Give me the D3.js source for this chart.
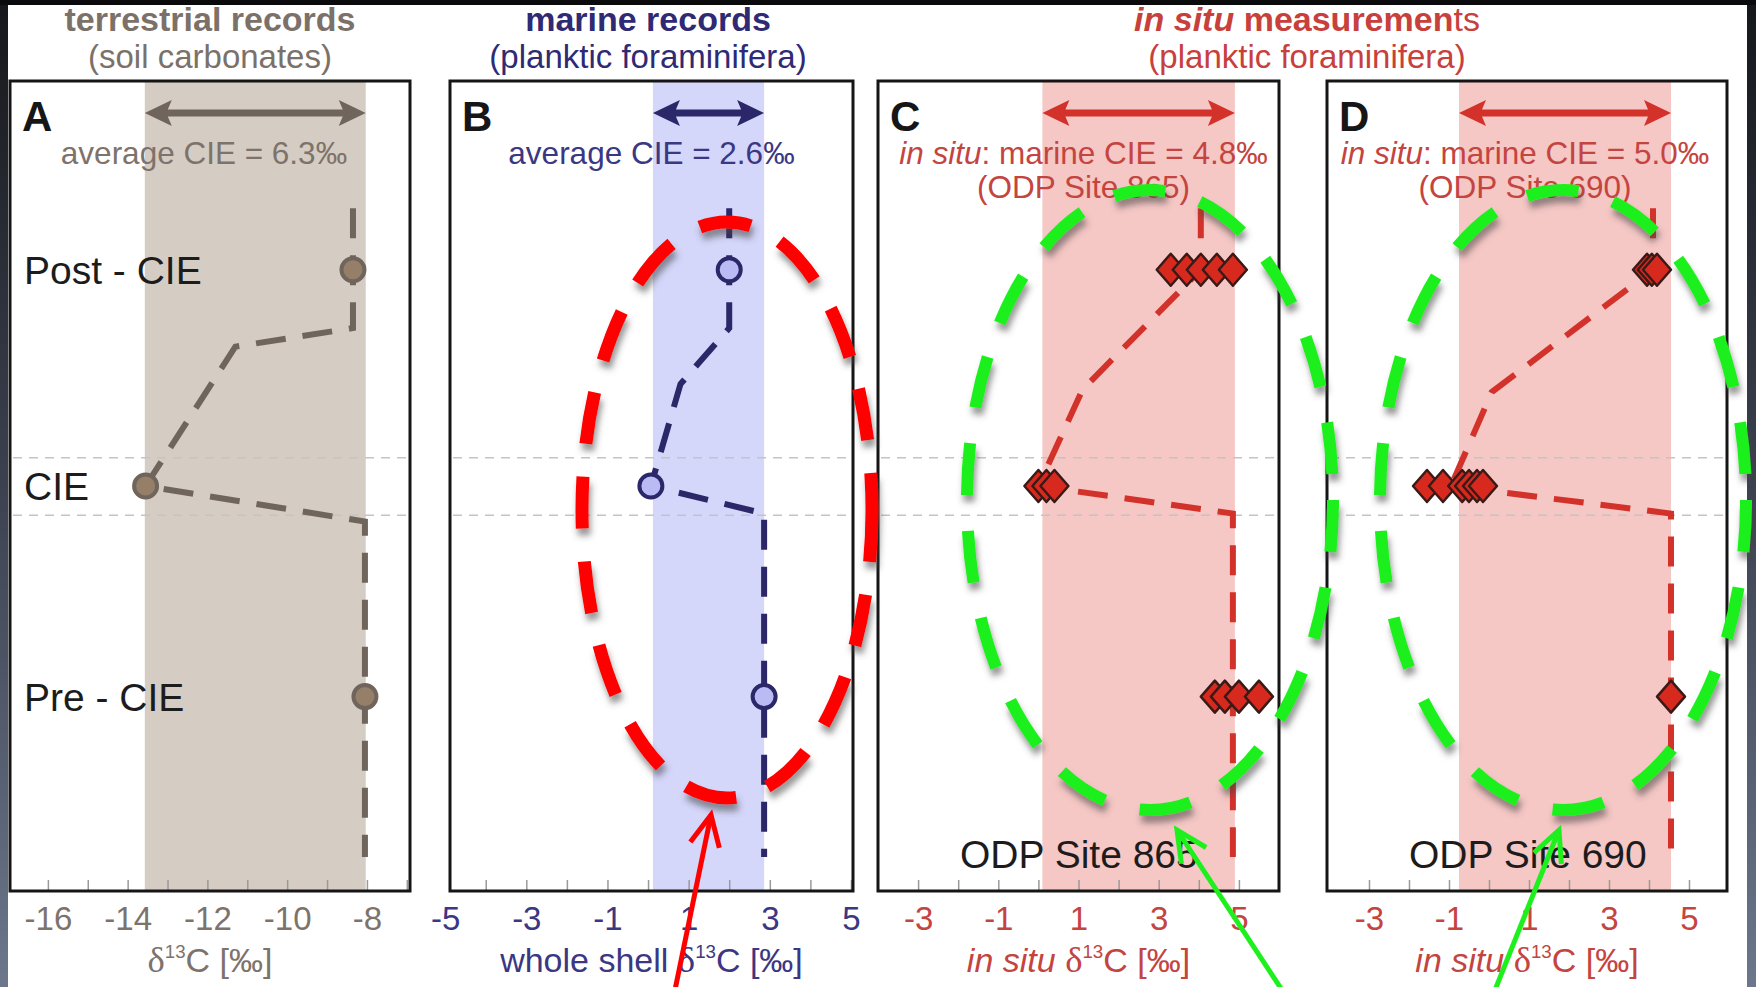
<!DOCTYPE html>
<html lang="en">
<head>
<meta charset="UTF-8">
<title>PETM carbon isotope excursion records</title>
<script src="https://d3js.org/d3.v7.min.js"></script>
<style>
  body { margin: 0; background: #fff; }
  svg { display: block; font-family: "Liberation Sans", Arial, sans-serif; }
</style>
</head>
<body>
<svg id="chart" width="1756" height="987"></svg>
<script>
// stratigraphic position of the intervals (0 = base of column, 100 = top)
var levelNames = ["Post - CIE", "CIE", "Pre - CIE"];
var levelPos = [76.7, 50, 24];
var cieZone = [46.4, 53.5];

// A - terrestrial records (soil carbonates)
var aDomain = [-16.95, -6.92];
var aTickLabels = [-16, -14, -12, -10, -8];
var aBand = [-13.57, -8.03];
var aPoints = [-8.35, -13.55, -8.05];          // post, CIE, pre
var aTrend = [[-8.35, 84.3], [-8.35, 76.7], [-8.35, 69.5], [-11.3, 67.2], [-13.55, 50], [-8.05, 45.6], [-8.05, 24], [-8.05, 4.2]];

// B - marine records (whole shell)
var bDomain = [-4.88, 5.05];
var bTickLabels = [-5, -3, -1, 1, 3, 5];
var bBand = [0.12, 2.86];
var bPoints = [2.0, 0.07, 2.86];
var bTrend = [[2.0, 84.3], [2.0, 76.7], [2.0, 69.5], [0.8, 62.6], [0.07, 50], [2.86, 46.6], [2.86, 24], [2.86, 4.2]];

// C - in situ, ODP Site 865
var cDomain = [-4, 6];
var cTickLabels = [-3, -1, 1, 3, 5];
var cBand = [0.1, 4.9];
var cPost = [3.3, 3.7, 4.05, 4.45, 4.85];
var cCie = [0.0, 0.2, 0.4];
var cPre = [4.4, 4.65, 5.0, 5.5];
var cTrend = [[4.05, 84.3], [4.05, 76.7], [1.1, 61.9], [0.0, 50], [4.85, 46.6], [4.85, 24], [4.85, 4.2]];

// D - in situ, ODP Site 690
var dDomain = [-4.05, 5.95];
var dTickLabels = [-3, -1, 1, 3, 5];
var dBand = [-0.75, 4.55];
var dPost = [3.95, 4.07, 4.2];
var dCie = [-1.55, -1.15, -0.67, -0.5, -0.3, -0.15];
var dPre = [4.55];
var dTrend = [[4.1, 84.3], [4.1, 76.7], [0.07, 61.6], [-0.95, 50], [4.55, 46.6], [4.55, 24], [4.55, 4.2]];

var W = 1756, H = 987;
var frameTop = 81, frameBottom = 891;
var svg = d3.select("#chart");

// slide background + dark border
var defs = svg.append("defs");
var lg = defs.append("linearGradient").attr("id", "edge").attr("x1", 0).attr("y1", 0).attr("x2", 0).attr("y2", 1);
lg.append("stop").attr("offset", 0).attr("stop-color", "#16171b");
lg.append("stop").attr("offset", 0.5).attr("stop-color", "#3c4250");
lg.append("stop").attr("offset", 1).attr("stop-color", "#6c778c");
var sh = defs.append("filter").attr("id", "shadow").attr("x", "-20%").attr("y", "-20%").attr("width", "140%").attr("height", "140%");
sh.append("feDropShadow").attr("dx", 2).attr("dy", 7).attr("stdDeviation", 3)
  .attr("flood-color", "#444").attr("flood-opacity", 0.55);

svg.append("rect").attr("width", W).attr("height", H).attr("fill", "#fff");
svg.append("rect").attr("x", 0).attr("y", 0).attr("width", 8).attr("height", H).attr("fill", "url(#edge)");
svg.append("rect").attr("x", W - 9).attr("y", 0).attr("width", 9).attr("height", H).attr("fill", "url(#edge)");
svg.append("rect").attr("x", 0).attr("y", 0).attr("width", W).attr("height", 5).attr("fill", "#0b0b0d");

var y = d3.scaleLinear().domain([0, 100]).range([frameBottom, frameTop]);

var panels = [
  { id: "A", x0: 10, x1: 410, domain: aDomain, ticks: aTickLabels, band: aBand,
    line: "#6f655d", text: "#7d736b", bandFill: "#d5cdc3", trend: aTrend,
    circles: aPoints, circleFill: "#957f68", labels: true,
    note: [["average CIE = 6.3‰", false]], noteDx: -6,
    axisTitle: [["", false], ["δ", "serif"], ["13", "sup"], ["C [‰]", false]] },
  { id: "B", x0: 450, x1: 853, domain: bDomain, ticks: bTickLabels, band: bBand,
    line: "#2b2768", text: "#3b3782", bandFill: "#d4d6fa", trend: bTrend,
    circles: bPoints, circleFill: "#babbf5",
    note: [["average CIE = 2.6‰", false]], noteDx: 0,
    axisTitle: [["whole shell ", false], ["δ", "serif"], ["13", "sup"], ["C [‰]", false]] },
  { id: "C", x0: 878, x1: 1279, domain: cDomain, ticks: cTickLabels, band: cBand,
    line: "#d3322b", text: "#c4443f", bandFill: "#f5c7c5", trend: cTrend,
    diamonds: [cPost, cCie, cPre], site: "ODP Site 865",
    note: [["in situ", "italic"], [": marine CIE = 4.8‰", false]], note2: "(ODP Site 865)", noteDx: 5,
    axisTitle: [["in situ ", "italic"], ["δ", "serif"], ["13", "sup"], ["C [‰]", false]] },
  { id: "D", x0: 1327, x1: 1727, domain: dDomain, ticks: dTickLabels, band: dBand,
    line: "#d3322b", text: "#c4443f", bandFill: "#f5c7c5", trend: dTrend,
    diamonds: [dPost, dCie, dPre], site: "ODP Site 690",
    note: [["in situ", "italic"], [": marine CIE = 5.0‰", false]], note2: "(ODP Site 690)", noteDx: -2,
    axisTitle: [["in situ ", "italic"], ["δ", "serif"], ["13", "sup"], ["C [‰]", false]] }
];

function runs(sel, parts) {
  var shift = 0;
  parts.forEach(function(p) {
    var t = sel.append("tspan").text(p[0]);
    if (p[1] === "italic") t.attr("font-style", "italic");
    if (p[1] === "serif") t.attr("font-family", "'Liberation Serif', serif").attr("font-size", "1.08em");
    if (p[1] === "sup") { t.attr("font-size", "0.55em").attr("dy", -14); shift = 14; }
    else if (shift) { t.attr("dy", shift); shift = 0; }
  });
}

panels.forEach(function(p) {
  var x = d3.scaleLinear().domain(p.domain).range([p.x0, p.x1]);
  var g = svg.append("g");
  var cx = (p.x0 + p.x1) / 2;

  // shaded CIE range
  g.append("rect").attr("x", x(p.band[0])).attr("y", frameTop)
    .attr("width", x(p.band[1]) - x(p.band[0])).attr("height", frameBottom - frameTop)
    .attr("fill", p.bandFill);

  // CIE interval guides
  g.selectAll(".zone").data(cieZone).enter().append("line")
    .attr("x1", p.x0 + 3).attr("x2", p.x1 - 3)
    .attr("y1", function(d) { return y(d); }).attr("y2", function(d) { return y(d); })
    .attr("stroke", "#c4c4c4").attr("stroke-width", 1.5).attr("stroke-dasharray", "9,7");

  // double arrow across the band
  var ax0 = x(p.band[0]), ax1 = x(p.band[1]), ay = 113, hl = 27, hw = 13, sw = 3.5;
  g.append("path")
    .attr("d", "M" + ax0 + "," + ay + "L" + (ax0 + hl) + "," + (ay - hw) + "L" + (ax0 + hl - 4) + "," + (ay - sw) +
      "L" + (ax1 - hl + 4) + "," + (ay - sw) + "L" + (ax1 - hl) + "," + (ay - hw) + "L" + ax1 + "," + ay +
      "L" + (ax1 - hl) + "," + (ay + hw) + "L" + (ax1 - hl + 4) + "," + (ay + sw) +
      "L" + (ax0 + hl - 4) + "," + (ay + sw) + "L" + (ax0 + hl) + "," + (ay + hw) + "Z")
    .attr("fill", p.line);

  // annotation
  var n1 = g.append("text").attr("x", cx + p.noteDx).attr("y", 164)
    .attr("text-anchor", "middle").attr("font-size", 31.5).attr("fill", p.text);
  runs(n1, p.note);
  if (p.note2) {
    g.append("text").attr("x", cx + p.noteDx).attr("y", 198).attr("text-anchor", "middle")
      .attr("font-size", 31.5).attr("fill", p.text).text(p.note2);
  }

  // trend line
  var line = d3.line().x(function(d) { return x(d[0]); }).y(function(d) { return y(d[1]); });
  g.append("path").datum(p.trend).attr("d", line).attr("fill", "none")
    .attr("stroke", p.line).attr("stroke-width", 6).attr("stroke-dasharray", "30,17");

  if (p.circles) {
    g.selectAll(".pt").data(p.circles).enter().append("circle")
      .attr("cx", function(d) { return x(d); })
      .attr("cy", function(d, i) { return y(levelPos[i]); })
      .attr("r", 11.5).attr("fill", p.circleFill).attr("stroke", p.line).attr("stroke-width", 4);
  }
  if (p.diamonds) {
    var flat = [];
    p.diamonds.forEach(function(arr, i) { arr.forEach(function(v) { flat.push([v, levelPos[i]]); }); });
    g.selectAll(".dm").data(flat).enter().append("path")
      .attr("d", "M0,-16L14,0L0,16L-14,0Z")
      .attr("transform", function(d) { return "translate(" + x(d[0]) + "," + y(d[1]) + ")"; })
      .attr("fill", "#d8291f").attr("stroke", "#3a1a17").attr("stroke-width", 2.5)
      .attr("stroke-linejoin", "round");
  }

  if (p.labels) {
    g.selectAll(".lvl").data(levelNames).enter().append("text")
      .attr("x", 24).attr("y", function(d, i) { return y(levelPos[i]); }).attr("dy", "0.36em")
      .attr("font-size", 39).attr("fill", "#1c1c1c").text(function(d) { return d; });
  }
  if (p.site) {
    g.append("text").attr("x", p.x0 + 82).attr("y", 868).attr("font-size", 39)
      .attr("fill", "#1c1c1c").text(p.site);
  }

  // axis: minor tick marks every unit, labels every two
  var ticksG = g.append("g").attr("transform", "translate(0," + frameBottom + ")")
    .call(d3.axisBottom(x).tickValues(d3.range(Math.ceil(p.domain[0] + 0.5), p.domain[1])).tickSize(-11).tickFormat(""));
  ticksG.select(".domain").remove();
  ticksG.selectAll("line").attr("stroke", "#9a9a9a").attr("stroke-width", 1.5);

  var labG = g.append("g").attr("transform", "translate(0," + frameBottom + ")")
    .call(d3.axisBottom(x).tickValues(p.ticks).tickSize(0).tickPadding(16).tickFormat(d3.format("d")));
  labG.select(".domain").remove();
  labG.selectAll("text").attr("font-size", 33).attr("font-family", "'Liberation Sans', Arial, sans-serif")
    .attr("fill", p.text).text(function(d) { return String(d); });

  var at = g.append("text").attr("x", cx).attr("y", 972).attr("text-anchor", "middle")
    .attr("font-size", 34).attr("fill", p.text);
  runs(at, p.axisTitle);

  // frame
  g.append("rect").attr("x", p.x0).attr("y", frameTop).attr("width", p.x1 - p.x0).attr("height", frameBottom - frameTop)
    .attr("fill", "none").attr("stroke", "#151515").attr("stroke-width", 3);

  g.append("text").attr("x", p.x0 + 12).attr("y", 131).attr("font-size", 42).attr("font-weight", "bold")
    .attr("fill", "#161616").text(p.id);
});

// column headings
function heading(cxh, color, line1, line2) {
  var t = svg.append("text").attr("x", cxh).attr("y", 31).attr("text-anchor", "middle")
    .attr("font-size", 34).attr("fill", color).attr("font-weight", "bold");
  line1.forEach(function(p) {
    var s = t.append("tspan").text(p[0]);
    if (p[1] === "bi") s.attr("font-style", "italic");
    if (p[1] === "n") s.attr("font-weight", "normal");
  });
  svg.append("text").attr("x", cxh).attr("y", 68).attr("text-anchor", "middle")
    .attr("font-size", 33).attr("fill", color).text(line2);
}
heading(210, "#7b7169", [["terrestrial records", ""]], "(soil carbonates)");
heading(648, "#2e2a74", [["marine records", ""]], "(planktic foraminifera)");
heading(1307, "#c8403c", [["in situ", "bi"], [" measuremen", ""], ["ts", "n"]], "(planktic foraminifera)");

// hand-drawn highlight overlay
var ov = svg.append("g");
ov.append("ellipse").attr("cx", 727).attr("cy", 510).attr("rx", 145).attr("ry", 288)
  .attr("fill", "none").attr("stroke", "#ff0000").attr("stroke-width", 13)
  .attr("stroke-dasharray", "52,33").attr("filter", "url(#shadow)");
[1150, 1563].forEach(function(ecx) {
  ov.append("ellipse").attr("cx", ecx).attr("cy", 500).attr("rx", 183).attr("ry", 310)
    .attr("fill", "none").attr("stroke", "#1df01d").attr("stroke-width", 12)
    .attr("stroke-dasharray", "52,36").attr("filter", "url(#shadow)");
});

function pointer(x1, y1, x2, y2, color) {
  var a = Math.atan2(y1 - y2, x1 - x2), L = 34, s = 0.45;
  ov.append("line").attr("x1", x1).attr("y1", y1).attr("x2", x2).attr("y2", y2)
    .attr("stroke", color).attr("stroke-width", 5);
  ov.append("path")
    .attr("d", "M" + (x2 + L * Math.cos(a + s)) + "," + (y2 + L * Math.sin(a + s)) + "L" + x2 + "," + y2 +
      "L" + (x2 + L * Math.cos(a - s)) + "," + (y2 + L * Math.sin(a - s)))
    .attr("fill", "none").attr("stroke", color).attr("stroke-width", 5);
}
pointer(675, 990, 711, 815, "#ff0000");
pointer(1282, 990, 1177, 830, "#1df01d");
pointer(1495, 990, 1559, 830, "#1df01d");
</script>
</body>
</html>
